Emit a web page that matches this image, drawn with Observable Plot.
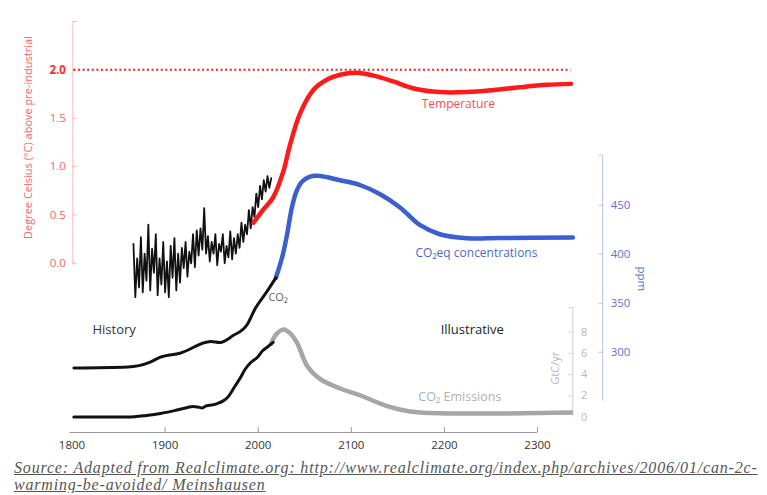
<!DOCTYPE html>
<html><head><meta charset="utf-8">
<script src="https://cdn.jsdelivr.net/npm/d3@7"></script>
<script src="https://cdn.jsdelivr.net/npm/@observablehq/plot@0.6"></script>
<style>
body{margin:0;background:#fff;}
#cap{font-family:"Liberation Serif",serif;font-style:italic;text-decoration:underline;color:#555;font-size:16px;letter-spacing:0.82px;line-height:17px;margin:0 0 0 14px;padding-top:4px;white-space:nowrap;}
</style></head><body>
<div id="chart"></div>
<div id="cap">Source: Adapted from Realclimate.org: http://www.realclimate.org/index.php/archives/2006/01/can-2c-<br>warming-be-avoided/ Meinshausen</div>
<script>
// ---- data ----
const histYears = [1866,1868,1870,1872,1874,1876,1878,1880,1882,1884,1886,1888,1890,1892,1894,1896,1898,1900,1902,1904,1906,1908,1910,1912,1914,1916,1918,1920,1922,1924,1926,1928,1930,1932,1934,1936,1938,1940,1942,1944,1946,1948,1950,1952,1954,1956,1958,1960,1962,1964,1966,1968,1970,1972,1974,1976,1978,1980,1982,1984,1986,1988,1990,1992,1994,1996,1998,2000,2002,2004,2006,2008,2010,2012,2014];
const histTemp = [0.20,-0.35,0.05,-0.25,0.27,-0.30,0.10,-0.18,0.40,-0.28,0.15,-0.10,0.30,-0.33,0.05,-0.22,0.22,-0.30,0.02,-0.35,0.18,-0.15,0.26,-0.28,0.10,-0.20,0.16,-0.05,0.22,-0.14,0.12,0.00,0.30,-0.04,0.34,0.08,0.36,0.14,0.57,0.10,0.28,0.02,0.22,0.10,0.30,-0.02,0.20,0.12,0.30,0.00,0.18,0.06,0.33,0.04,0.26,0.10,0.30,0.16,0.42,0.22,0.40,0.30,0.55,0.36,0.58,0.48,0.72,0.58,0.80,0.66,0.86,0.74,0.90,0.78,0.88];

const tempYears  = [1995,2005,2016,2027,2034,2045,2059,2074,2088,2106,2124,2145,2166,2195,2224,2252,2281,2310,2336];
const tempValues = [0.42,0.55,0.68,0.95,1.22,1.55,1.79,1.90,1.95,1.97,1.94,1.88,1.81,1.77,1.77,1.79,1.82,1.845,1.855];

const co2HistYears = [1802,1860,1884,1895,1916,1949,1959,1973,1988,1997,2008,2019];
const co2HistPpm   = [284,285,290,295,299,311,310,317,328,345,360,376];
const co2ProjYears = [2019,2026,2031,2036,2041,2047,2055,2064,2088,2110,2131,2152,2174,2195,2224,2260,2338];
const co2ProjPpm   = [376,398,420,447,464,474,479,480,475.5,470.4,461.2,448,429.6,420.4,416.3,416.5,417];

const emisHistYears = [1802,1860,1880,1895,1910,1924,1930,1935,1940,1944,1948,1956,1962,1967,1975,1981,1986,1992,1999,2005,2010,2016];
const emisHistGtC   = [0,0,0.15,0.33,0.6,0.9,1.0,0.95,0.85,1.05,1.1,1.27,1.5,1.84,2.9,3.73,4.5,5.14,5.61,6.27,6.6,7.03];
const emisProjYears = [2013,2019.5,2027,2034.5,2042,2053,2067,2088,2110,2131,2152,2174,2338];
const emisProjGtC   = [6.75,7.8,8.25,7.88,6.93,4.76,3.54,2.69,2.03,1.27,0.71,0.42,0.42];

const tempTicks = [0,0.5,1.0,1.5,2.0];
const ppmTicks  = [300,350,400,450];
const gtcTicks  = [0,2,4,6,8];
const yearTicks = [1800,1900,2000,2100,2200,2300];

// ---- secondary axes aligned onto the temperature scale ----
const ppmAlign = d3.scaleLinear([300,450],[-0.92,0.60]);
const gtcAlign = d3.scaleLinear([0,8],[-1.59,-0.712]);

const Y0 = -1.75, Y1 = 2.5;
const ppmAxisX = 2370, gtcAxisX = 2338, tAxisX = 1801;
const FONT = "Open Sans, sans-serif";
const RED="#ff1a1a", RED_AX="#ffb3b3", RED_TX="#ff6262";
const BLUE="#3c5fd0", BLUE_AX="#b8c2f2", BLUE_TX="#5c72d8";
const GRAY="#a6a6a6", GRAY_AX="#cfcfcf", GRAY_TX="#b8b8b8";

const labels = [
  {x:2215,y:1.65,t:"Temperature",fill:"#ff4d4d",anchor:"middle",size:12},
  {x:2169,y:0.10,t:"CO₂eq concentrations",fill:"#4a68d4",anchor:"start",size:12},
  {x:1822,y:-0.69,t:"History",fill:"#333344",anchor:"start",size:13},
  {x:2196,y:-0.69,t:"Illustrative",fill:"#222",anchor:"start",size:13},
  {x:2011,y:-0.35,t:"CO₂",fill:"#666",anchor:"start",size:11},
  {x:2172,y:-1.38,t:"CO₂ Emissions",fill:"#b0b0b0",anchor:"start",size:12.5}
];

const idx = a => d3.range(a.length);

const chart = Plot.plot({
  width: 767, height: 455,
  marginLeft: 71.5, marginRight: 230, marginTop: 21, marginBottom: 23,
  style: {fontFamily: FONT, background: "#fff", overflow: "visible"},
  x: {domain: [1800, 2300], label: null},
  y: {domain: [Y0, Y1], axis: null},
  marks: [
    // x axis
    Plot.ruleY([Y0], {x1: 1798, x2: 2300, stroke: "#999", strokeWidth: 1}),
    Plot.ruleX(yearTicks.slice(1), {y1: Y0, y2: Y0 + 0.05, stroke: "#999"}),
    Plot.axisX(yearTicks, {tickSize: 0, tickPadding: 8, tickFormat: d => String(d), fontSize: 11.5, fill: "#333", fontFamily: FONT, label: null}),

    // temperature axis (left)
    Plot.ruleX([tAxisX], {y1: -0.02, y2: Y1, stroke: RED_AX}),
    Plot.ruleY(tempTicks.concat([Y1]), {x1: tAxisX, x2: tAxisX + 4.5, stroke: RED_AX}),
    Plot.text(tempTicks.filter(d => d !== 2), {x: tAxisX, y: d => d, dx: -7, textAnchor: "end", text: d => d.toFixed(1), fill: RED_TX, fontSize: 11.5}),
    Plot.text([2], {x: tAxisX, y: d => d, dx: -7, textAnchor: "end", text: d => d.toFixed(1), fill: "#ff2a2a", fontSize: 11.5, fontWeight: "bold"}),
    Plot.text(["Degree Celsius (°C) above pre-industrial"], {x: 1753, y: 1.30, rotate: -90, text: d => d, fill: RED_TX, fontSize: 11}),

    // 2 degree dotted line
    Plot.ruleY([2], {x1: tAxisX + 1, x2: 2336, stroke: RED, strokeWidth: 2, strokeDasharray: "2,2.6"}),

    // ppm axis (blue)
    Plot.ruleX([ppmAxisX], {y1: ppmAlign(250), y2: ppmAlign(501), stroke: BLUE_AX}),
    Plot.ruleY(ppmTicks.concat([501]).map(p => ppmAlign(p)), {x1: ppmAxisX - 4, x2: ppmAxisX, stroke: BLUE_AX}),
    Plot.text(ppmTicks, {x: ppmAxisX, y: d => ppmAlign(d), dx: 8, textAnchor: "start", text: d => String(d), fill: BLUE_TX, fontSize: 11.5}),
    Plot.text(["ppm"], {x: 2412, y: ppmAlign(375), rotate: 90, text: d => d, fill: BLUE_TX, fontSize: 11.5}),

    // GtC/yr axis (gray)
    Plot.ruleX([gtcAxisX], {y1: gtcAlign(0), y2: gtcAlign(10.3), stroke: GRAY_AX}),
    Plot.ruleY(gtcTicks.slice(1).concat([10.3]).map(g => gtcAlign(g)), {x1: gtcAxisX - 4, x2: gtcAxisX, stroke: GRAY_AX}),
    Plot.text(gtcTicks, {x: gtcAxisX, y: d => gtcAlign(d), dx: 8, textAnchor: "start", text: d => String(d), fill: GRAY_TX, fontSize: 11}),
    Plot.text(["GtC/yr"], {x: 2319, y: gtcAlign(4.6), rotate: -90, text: d => d, fill: GRAY_TX, fontSize: 11}),

    // emissions
    Plot.line(idx(emisProjYears), {x: i => emisProjYears[i], y: i => gtcAlign(emisProjGtC[i]), stroke: GRAY, strokeWidth: 4.5, curve: "catmull-rom", strokeLinecap: "butt"}),
    Plot.line(idx(emisHistYears), {x: i => emisHistYears[i], y: i => gtcAlign(emisHistGtC[i]), stroke: "#111", strokeWidth: 3, curve: "monotone-x"}),

    // CO2 concentration
    Plot.line(idx(co2ProjYears), {x: i => co2ProjYears[i], y: i => ppmAlign(co2ProjPpm[i]), stroke: BLUE, strokeWidth: 4.5, curve: "catmull-rom"}),
    Plot.line(idx(co2HistYears), {x: i => co2HistYears[i], y: i => ppmAlign(co2HistPpm[i]), stroke: "#111", strokeWidth: 3, curve: "monotone-x"}),

    // temperature
    Plot.line(idx(histYears), {x: i => histYears[i], y: i => histTemp[i], stroke: "#111", strokeWidth: 1.8}),
    Plot.line(idx(tempYears), {x: i => tempYears[i], y: i => tempValues[i], stroke: RED, strokeWidth: 4.5, curve: "catmull-rom", strokeLinecap: "round"}),

    // labels
    Plot.text(labels, {x: "x", y: "y", text: "t", fill: d => d.fill, textAnchor: "start", fontSize: 12, filter: d => d.anchor === "start" && d.size === 12}),
    Plot.text(labels, {x: "x", y: "y", text: "t", fill: d => d.fill, textAnchor: "start", fontSize: 13, filter: d => d.size === 13}),
    Plot.text(labels, {x: "x", y: "y", text: "t", fill: d => d.fill, textAnchor: "start", fontSize: 11, filter: d => d.size === 11}),
    Plot.text(labels, {x: "x", y: "y", text: "t", fill: d => d.fill, textAnchor: "start", fontSize: 12.5, filter: d => d.size === 12.5}),
    Plot.text(labels, {x: "x", y: "y", text: "t", fill: d => d.fill, textAnchor: "middle", fontSize: 12, filter: d => d.anchor === "middle"})
  ]
});
document.getElementById("chart").appendChild(chart);
</script>
</body></html>
